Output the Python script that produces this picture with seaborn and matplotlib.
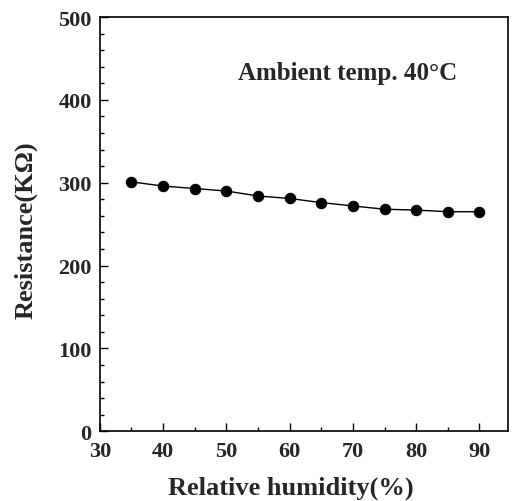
import matplotlib
matplotlib.use("Agg")
import matplotlib.pyplot as plt
from matplotlib.ticker import MultipleLocator
import seaborn as sns
import pandas as pd

humidity = [35, 40, 45, 50, 55, 60, 65, 70, 75, 80, 85, 90]
resistance = [301, 296, 293, 290, 284, 281, 276, 272, 268, 267, 265, 265]

sns.set_style("ticks")
plt.rcParams["font.family"] = ["Liberation Serif", "DejaVu Serif"]
plt.rcParams["font.weight"] = "bold"

df = pd.DataFrame({"rh": humidity, "r": resistance})

fig = plt.figure(figsize=(5.12, 5.02), dpi=100)
ax = fig.add_axes([0.195, 0.139, 0.797, 0.825])

sns.lineplot(data=df, x="rh", y="r", ax=ax, color="black", linewidth=1.0,
             marker="o", markersize=7.5, markeredgecolor="black",
             markerfacecolor="black")

ax.set_xlim(30, 94.5)
ax.set_ylim(0, 500)
ax.xaxis.set_major_locator(MultipleLocator(10))
ax.xaxis.set_minor_locator(MultipleLocator(5))
ax.yaxis.set_major_locator(MultipleLocator(100))
ax.yaxis.set_minor_locator(MultipleLocator(20))
ax.tick_params(which="both", direction="in", top=False, right=False,
               color="black", width=1.0)
ax.tick_params(which="major", length=6, labelsize=16)
ax.tick_params(axis="x", which="major", pad=7)
ax.tick_params(axis="y", which="major", pad=6)
ax.tick_params(which="minor", length=3)
for lbl in ax.get_xticklabels() + ax.get_yticklabels():
    lbl.set_fontweight("bold")
for s in ax.spines.values():
    s.set_visible(True)
    s.set_color("black")
    s.set_linewidth(1.2)

ax.set_xlabel("Relative humidity(%)", fontsize=19, fontweight="bold", labelpad=11)
ax.set_ylabel("Resistance(K\u03a9)", fontsize=19, fontweight="bold", labelpad=15)
ax.xaxis.set_label_coords(0.468, -0.108)
ax.yaxis.label.set_y(0.488)

ax.text(0.338, 0.867, "Ambient temp. 40\u00b0C", transform=ax.transAxes,
        fontsize=18, fontweight="bold", ha="left", va="center")

fig.savefig("out.png", dpi=100)
